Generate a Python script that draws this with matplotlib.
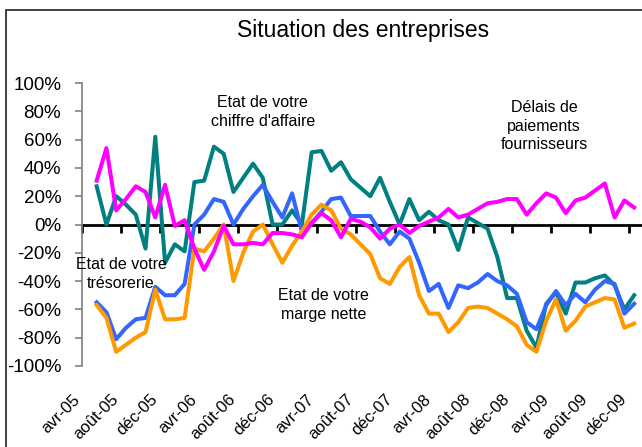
import matplotlib
matplotlib.use("Agg")
import matplotlib.pyplot as plt
from matplotlib.patches import Rectangle
import numpy as np

plt.rcParams['font.family'] = ['Liberation Sans', 'DejaVu Sans']

# monthly balances of opinion, May 2005 .. Dec 2009 (%)
chiffre = [27, 0, 20, 14, 7, -17, 62, -27, -14, -19,
           30, 31, 55, 50, 23, 33, 43, 33, 0, 0,
           10, 0, 51, 52, 38, 44, 32, 26, 20, 33,
           16, 0, 18, 3, 9, 3, 0, -18, 5, 1,
           -3, -23, -52, -52, -75, -87, -56, -48, -63, -41,
           -41, -38, -36, -43, -60, -50]
tresorerie = [-55, -62, -81, -73, -67, -66, -44, -50, -50, -42,
              0, 7, 18, 16, 0, 11, 20, 28, 16, 5,
              22, -5, 1, 9, 18, 19, 6, 6, 6, -5,
              -14, -5, -10, -27, -47, -42, -59, -43, -45, -41,
              -35, -40, -43, -49, -69, -74, -57, -47, -57, -49,
              -55, -46, -40, -42, -63, -56]
marge = [-57, -66, -90, -85, -80, -76, -46, -67, -67, -66,
         -17, -19, -10, 0, -40, -20, -5, 0, -14, -27,
         -15, -5, 7, 14, 10, -3, -7, -14, -21, -38,
         -42, -30, -23, -50, -63, -63, -76, -69, -59, -58,
         -59, -63, -67, -72, -85, -90, -68, -53, -75, -68,
         -58, -55, -52, -53, -73, -70]
delais = [31, 54, 10, 18, 27, 23, 5, 28, -1, 3,
          -17, -32, -19, -1, -14, -14, -13, -14, -6, -6,
          -7, -9, 1, 8, 3, -9, 4, 2, -2, -10,
          -3, 0, -6, -1, 2, 5, 11, 5, 7, 11,
          15, 16, 18, 18, 7, 15, 22, 19, 8, 17,
          19, 24, 29, 5, 17, 12]

tick_labels = ["avr-05", "août-05", "déc-05", "avr-06", "août-06", "déc-06",
               "avr-07", "août-07", "déc-07", "avr-08", "août-08", "déc-08",
               "avr-09", "août-09", "déc-09"]

x = np.arange(len(chiffre)) + 1.5
ticks = np.arange(len(tick_labels)) * 4

W, H = 642, 447
fig = plt.figure(figsize=(W / 100, H / 100), dpi=100)
ax = fig.add_axes([82 / W, 1 - 366 / H, 559 / W, 283 / H])

ax.plot(x, chiffre, color="#008080", lw=2.9)
ax.plot(x, tresorerie, color="#3366FF", lw=2.9)
ax.plot(x, marge, color="#FF9900", lw=2.9)
ax.plot(x, delais, color="#FF00FF", lw=2.9)

ax.set_xlim(0, 57.2)
ax.set_ylim(-100, 100)
ax.set_yticks(np.arange(-100, 101, 20))
ax.set_yticklabels([f"{v}%" for v in range(-100, 101, 20)], fontsize=13.5)
ax.tick_params(axis="y", direction="out", length=5, width=1.2, color="#808080", pad=10)

ax.spines["top"].set_visible(False)
ax.spines["right"].set_visible(False)
ax.spines["left"].set_color("#808080")
ax.spines["left"].set_linewidth(1.2)
ax.spines["bottom"].set_position(("data", 0))
ax.spines["bottom"].set_linewidth(2)
ax.spines["bottom"].set_zorder(1)
ax.set_xticks(ticks)
ax.tick_params(axis="x", direction="out", length=6, width=2, color="black", labelbottom=False)

for t, lab in zip(ticks, tick_labels):
    ax.text(t - 0.5, -0.11, lab, transform=ax.get_xaxis_transform(), rotation=45,
            rotation_mode="anchor", ha="right", va="center", fontsize=12)

ax.text(18.5, 0.897, "Etat de votre\nchiffre d'affaire", transform=ax.get_xaxis_transform(),
        ha="center", va="center", fontsize=11.5, linespacing=1.3)
ax.text(47.3, 0.848, "Délais de\npaiements\nfournisseurs", transform=ax.get_xaxis_transform(),
        ha="center", va="center", fontsize=11.5, linespacing=1.3)
ax.text(4.0, 0.325, "Etat de votre\ntrésorerie", transform=ax.get_xaxis_transform(),
        ha="center", va="center", fontsize=11.5, linespacing=1.3)
ax.text(24.7, 0.215, "Etat de votre\nmarge nette", transform=ax.get_xaxis_transform(),
        ha="center", va="center", fontsize=11.5, linespacing=1.3)

fig.text(363.5 / W, 1 - 30 / H, "Situation des entreprises", ha="center", va="center",
         fontsize=16.5)

fig.add_artist(Rectangle((6 / W, -0.1), 1.2, 1 - 10 / H + 0.1, transform=fig.transFigure,
                         fill=False, edgecolor="#333333", lw=1.3))

fig.savefig("out.png", dpi=100)
